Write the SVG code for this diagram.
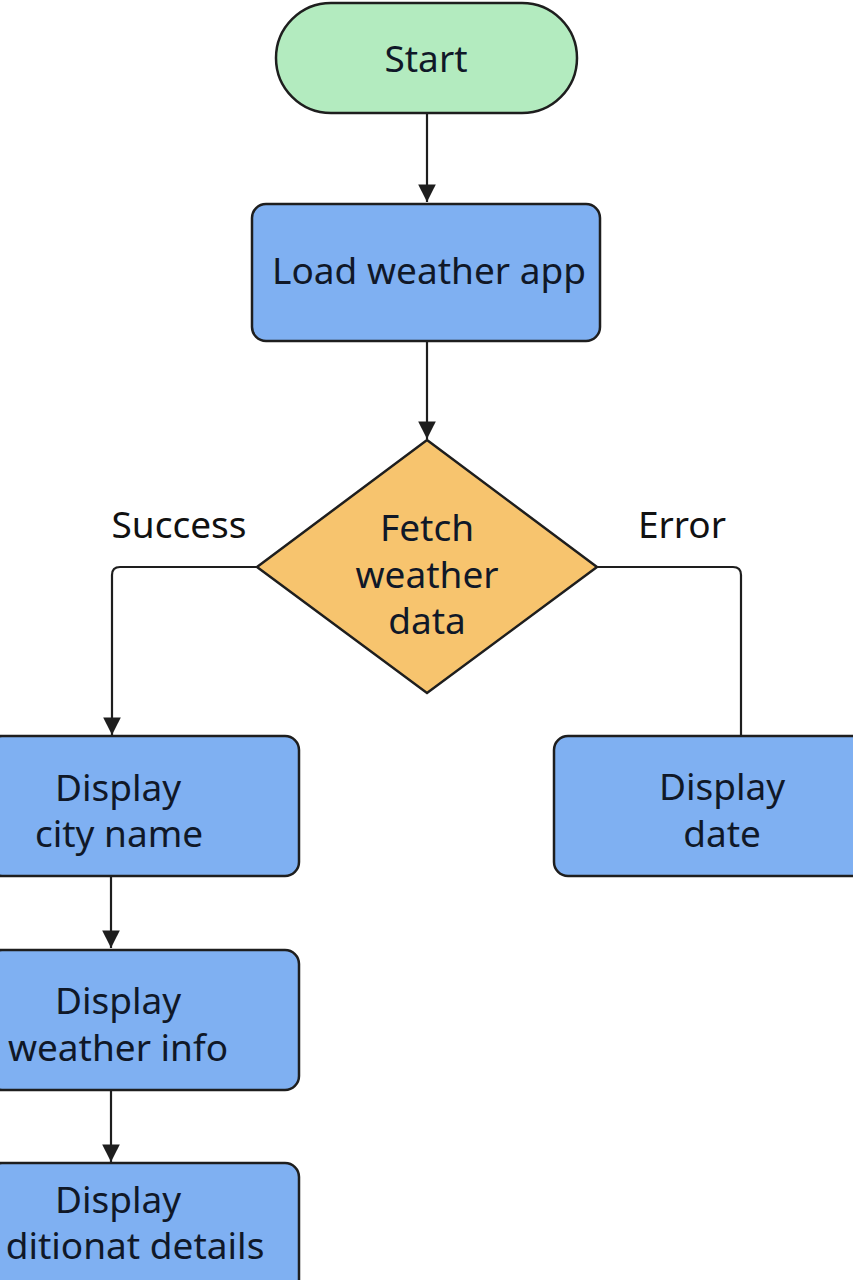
<svg xmlns="http://www.w3.org/2000/svg" width="853" height="1280" viewBox="0 0 853 1280">
<defs>
<marker id="arr" viewBox="0 0 10 10" refX="10" refY="5" markerWidth="8" markerHeight="8" markerUnits="strokeWidth" orient="auto">
<path d="M0,0 L10,5 L0,10 Z" fill="#1e1e1e"/>
</marker>
<style>
.n{stroke:#1e1e1e;stroke-width:2.5}
.t{font-family:"Noto Sans","Liberation Sans",sans-serif;font-size:37px;fill:#101828;text-anchor:middle}
.l{font-family:"Noto Sans","Liberation Sans",sans-serif;font-size:37px;fill:#111;text-anchor:middle}
.c{fill:none;stroke:#1e1e1e;stroke-width:2.2}
</style>
</defs>
<rect width="853" height="1280" fill="#ffffff"/>
<g id="connectors">
<line class="c" x1="427" y1="113" x2="427" y2="202" marker-end="url(#arr)"/>
<line class="c" x1="427" y1="341" x2="427" y2="439" marker-end="url(#arr)"/>
<path class="c" d="M257,567 H120 Q112,567 112,575 V735" marker-end="url(#arr)"/>
<path class="c" d="M597,567 H733 Q741,567 741,575 V736"/>
<line class="c" x1="111" y1="876" x2="111" y2="948" marker-end="url(#arr)"/>
<line class="c" x1="111" y1="1090" x2="111" y2="1162" marker-end="url(#arr)"/>
<text class="l" x="179" y="538">Success</text>
<text class="l" x="682" y="538">Error</text>
</g>
<g id="start">
<rect class="n" x="276" y="3" width="301" height="110" rx="55" fill="#b3ebbf"/>
<text class="t" x="426" y="72" font-size="38">Start</text>
</g>
<g id="load">
<rect class="n" x="252" y="204" width="348" height="137" rx="14" fill="#7fb0f2"/>
<text class="t" x="429" y="284">Load weather app</text>
</g>
<g id="fetch">
<polygon class="n" points="427,440 597,567 427,693 257,567" fill="#f7c46e"/>
<text class="t" x="427" y="541">Fetch</text>
<text class="t" x="427" y="588">weather</text>
<text class="t" x="427" y="634">data</text>
</g>
<g id="city">
<rect class="n" x="-12" y="736" width="311" height="140" rx="14" fill="#7fb0f2"/>
<text class="t" x="118" y="801">Display</text>
<text class="t" x="119" y="847">city name</text>
</g>
<g id="date">
<rect class="n" x="554" y="736" width="320" height="140" rx="14" fill="#7fb0f2"/>
<text class="t" x="722" y="800">Display</text>
<text class="t" x="722" y="847">date</text>
</g>
<g id="weather">
<rect class="n" x="-12" y="950" width="311" height="140" rx="14" fill="#7fb0f2"/>
<text class="t" x="118" y="1014">Display</text>
<text class="t" x="118" y="1061">weather info</text>
</g>
<g id="details">
<rect class="n" x="-12" y="1163" width="311" height="140" rx="14" fill="#7fb0f2"/>
<text class="t" x="118" y="1213">Display</text>
<text class="t" x="135" y="1259">ditionat details</text>
</g>
</svg>
